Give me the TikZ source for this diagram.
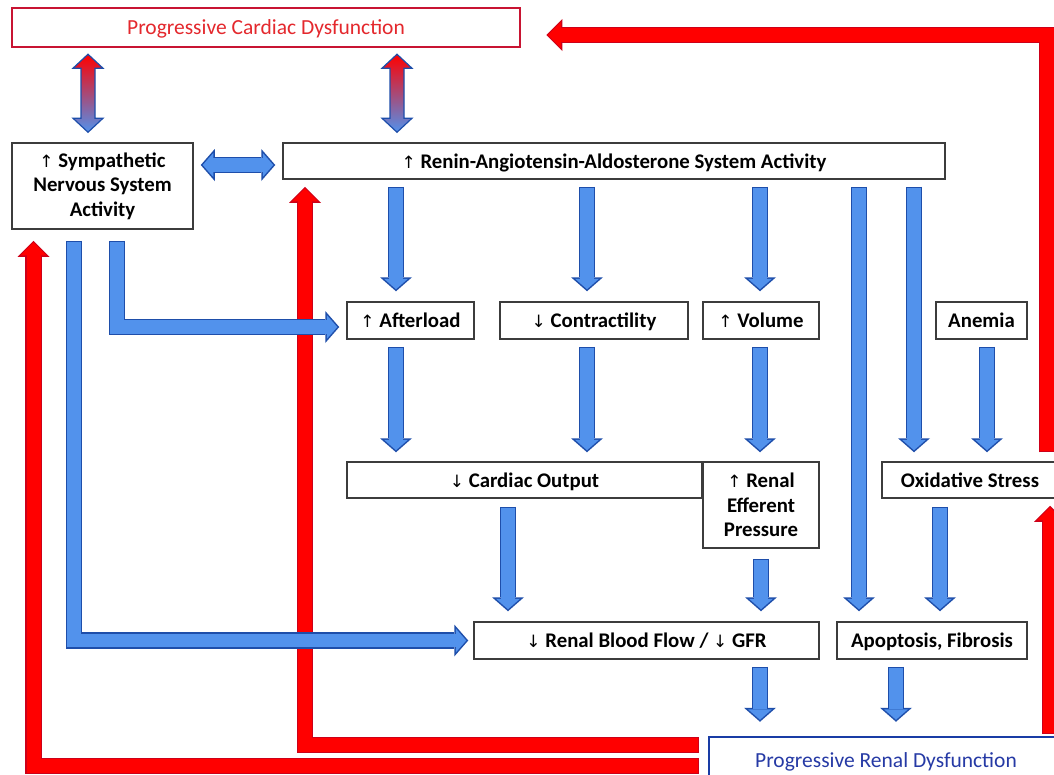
\documentclass[tikz,border=0pt]{standalone}
\usepackage{fontspec}
\setmainfont{Carlito}
\newfontfamily\arrowfont{DejaVu Sans}
\usetikzlibrary{arrows.meta,calc,positioning}

\definecolor{bfill}{RGB}{82,146,236}
\definecolor{bline}{RGB}{30,78,170}
\definecolor{rfill}{RGB}{255,0,0}
\definecolor{rline}{RGB}{205,0,25}
\definecolor{boxgray}{RGB}{60,60,60}
\definecolor{cardred}{RGB}{200,20,50}
\definecolor{cardtext}{RGB}{228,40,45}
\definecolor{renblue}{RGB}{25,60,165}
\definecolor{rentext}{RGB}{38,58,165}
\definecolor{gradmid}{RGB}{185,45,205}

\newcommand{\upmark}{{\arrowfont\mdseries\fontsize{17}{17}\selectfont ↑}}
\newcommand{\downmark}{{\arrowfont\mdseries\fontsize{17}{17}\selectfont ↓}}

\tikzset{
  box/.style={draw=boxgray, line width=1.5pt, fill=white, align=center, inner sep=2pt,
    font=\bfseries\fontsize{20.8}{24.5}\selectfont},
  oneline/.style={text height=16pt, text depth=2pt},
  bluearr/.style={draw=bfill, line width=13.5pt, line join=miter, shorten >=2pt, shorten <=1.5pt,
    -{Triangle[width=24pt,length=10.5pt,line width=0pt]},
    preaction={draw=bline, line width=16.5pt, shorten >=0pt, shorten <=0pt,
      -{Triangle[width=32pt,length=14pt,line width=0pt]}}},
  bluedbl/.style={draw=bfill, line width=13.5pt, shorten >=2pt, shorten <=2pt,
    {Triangle[width=24pt,length=10.5pt,line width=0pt]}-{Triangle[width=24pt,length=10.5pt,line width=0pt]},
    preaction={draw=bline, line width=16.5pt, shorten >=0pt, shorten <=0pt,
      {Triangle[width=32pt,length=14pt,line width=0pt]}-{Triangle[width=32pt,length=14pt,line width=0pt]}}},
  redarr/.style={draw=rfill, line width=14pt, line join=miter, shorten >=1.7pt, shorten <=1.2pt,
    -{Triangle[width=26pt,length=13pt,line width=0pt]},
    preaction={draw=rline, line width=16.5pt, shorten >=0pt, shorten <=0pt,
      -{Triangle[width=32pt,length=16pt,line width=0pt]}}},
  gradarr/.style={draw=bline, line width=1.2pt, top color=red, middle color=gradmid, bottom color=bfill}
}

\newcommand{\gradarrow}[2]{%
  \shadedraw[gradarr] (#1) -- ($(#1)+(15,14)$) -- ($(#1)+(7,14)$) -- ($(#2)+(7,-14)$)
    -- ($(#2)+(15,-14)$) -- (#2) -- ($(#2)+(-15,-14)$) -- ($(#2)+(-7,-14)$)
    -- ($(#1)+(-7,14)$) -- ($(#1)+(-15,14)$) -- cycle;}

\begin{document}
\begin{tikzpicture}[x=1pt,y=-1pt]
  \useasboundingbox (0,0) rectangle (1054,774);
  \fill[white] (0,0) rectangle (1054,774);
  \clip (0,0) rectangle (1054,774);

  % boxes
  \node[box, oneline, draw=cardred, line width=2.5pt, text=cardtext, font=\fontsize{21.5}{24}\selectfont,
    minimum width=508pt, minimum height=39pt] (cardiac) at (266,27.5) {Progressive Cardiac Dysfunction};
  \node[box, minimum width=181pt, minimum height=86pt] (sns) at (102.5,186) {\upmark\ Sympathetic\\Nervous System\\Activity};
  \node[box, oneline, minimum width=662pt, minimum height=36pt] (raas) at (614,161) {\upmark\ Renin-Angiotensin-Aldosterone System Activity};
  \node[box, oneline, minimum width=127pt, minimum height=37pt] (afterload) at (410.5,320.5) {\upmark\ Afterload};
  \node[box, oneline, minimum width=188pt, minimum height=37pt] (contract) at (594,320.5) {\downmark\ Contractility};
  \node[box, oneline, minimum width=116pt, minimum height=37pt] (volume) at (761,320.5) {\upmark\ Volume};
  \node[box, oneline, minimum width=91pt, minimum height=37pt] (anemia) at (981.5,320.5) {Anemia};
  \node[box, oneline, minimum width=355pt, minimum height=36pt] (cardout) at (524.5,480) {\downmark\ Cardiac Output};
  \node[box, minimum width=116pt, minimum height=86pt] (efferent) at (761,505) {\upmark\ Renal\\Efferent\\Pressure};
  \node[box, oneline, minimum width=176pt, minimum height=36pt] (oxid) at (970,480) {Oxidative Stress};
  \node[box, oneline, minimum width=345pt, minimum height=37pt] (rbf) at (646.5,640.5) {\downmark\ Renal Blood Flow / \downmark\ GFR};
  \node[box, oneline, minimum width=190pt, minimum height=37pt] (apop) at (932,640.5) {Apoptosis, Fibrosis};
  \node[box, oneline, draw=renblue, line width=2.5pt, text=rentext, font=\fontsize{21.5}{24}\selectfont,
    minimum width=354pt, minimum height=46pt] (renal) at (886,760) {Progressive Renal Dysfunction};

  % feedback to the heart and the neurohormonal systems
  \draw[redarr] ($(renal.west)+(-9,-15)$) -| ($(raas.south)+(-309,7)$);
  \draw[redarr] ($(renal.west)+(-9,6)$) -| ($(sns.south)+(-69,11)$);
  \draw[redarr] ($(renal.north)+(164,-2)$) -- ($(oxid.south)+(80,7)$);
  \draw[redarr] ($(oxid.north)+(77,-9)$) |- ($(cardiac.east)+(25,7.5)$);

  % cardiac box <-> neurohormonal systems
  \coordinate (g1) at ($(cardiac.south)+(-178,6)$);
  \coordinate (g2) at ($(sns.north)+(-14.5,-10)$);
  \coordinate (g3) at ($(cardiac.south)+(131,6)$);
  \coordinate (g4) at ($(raas.north)+(-217,-10)$);
  \gradarrow{g1}{g2}
  \gradarrow{g3}{g4}
  \draw[bluedbl] ($(sns.east |- raas.west)+(7,4)$) -- ($(raas.west)+(-7,4)$);

  % RAAS down
  \draw[bluearr] ($(afterload.north |- raas.south)+(-14.5,7)$) -- ($(afterload.north)+(-14.5,-10)$);
  \draw[bluearr] ($(contract.north |- raas.south)+(-7,7)$) -- ($(contract.north)+(-7,-10)$);
  \draw[bluearr] ($(volume.north |- raas.south)+(-1,7)$) -- ($(volume.north)+(-1,-10)$);
  \draw[bluearr] ($(apop.north |- raas.south)+(-73,7)$) -- ($(apop.north)+(-73,-10)$);
  \draw[bluearr] ($(oxid.north |- raas.south)+(-56,7)$) -- ($(oxid.north)+(-56,-9)$);

  % middle rows
  \draw[bluearr] ($(afterload.south)+(-14.5,7)$) -- ($(cardout.north -| afterload.south)+(-14.5,-9)$);
  \draw[bluearr] ($(contract.south)+(-7,7)$) -- ($(cardout.north -| contract.south)+(-7,-9)$);
  \draw[bluearr] ($(volume.south)+(-1,7)$) -- ($(efferent.north)+(-1,-9)$);
  \draw[bluearr] ($(anemia.south)+(5.5,7)$) -- ($(oxid.north -| anemia.south)+(5.5,-9)$);
  \draw[bluearr] ($(cardout.south)+(-16.5,8)$) -- ($(rbf.north -| cardout.south)+(-16.5,-10)$);
  \draw[bluearr] ($(efferent.south)+(0,10)$) -- ($(rbf.north -| efferent.south)+(0,-10)$);
  \draw[bluearr] ($(oxid.south)+(-30,8)$) -- ($(apop.north -| oxid.south)+(-30,-10)$);
  \draw[bluearr] ($(rbf.south)+(113.5,7)$) -- ($(renal.north -| rbf.south)+(113.5,-14)$);
  \draw[bluearr] ($(apop.south)+(-36,7)$) -- ($(renal.north -| apop.south)+(-36,-14)$);

  % sympathetic outputs
  \draw[bluearr] ($(sns.south)+(14.5,11)$) |- ($(afterload.west)+(-7,6.5)$);
  \draw[bluearr] ($(sns.south)+(-28.5,11)$) |- ($(rbf.west)+(-5,0)$);
\end{tikzpicture}
\end{document}
